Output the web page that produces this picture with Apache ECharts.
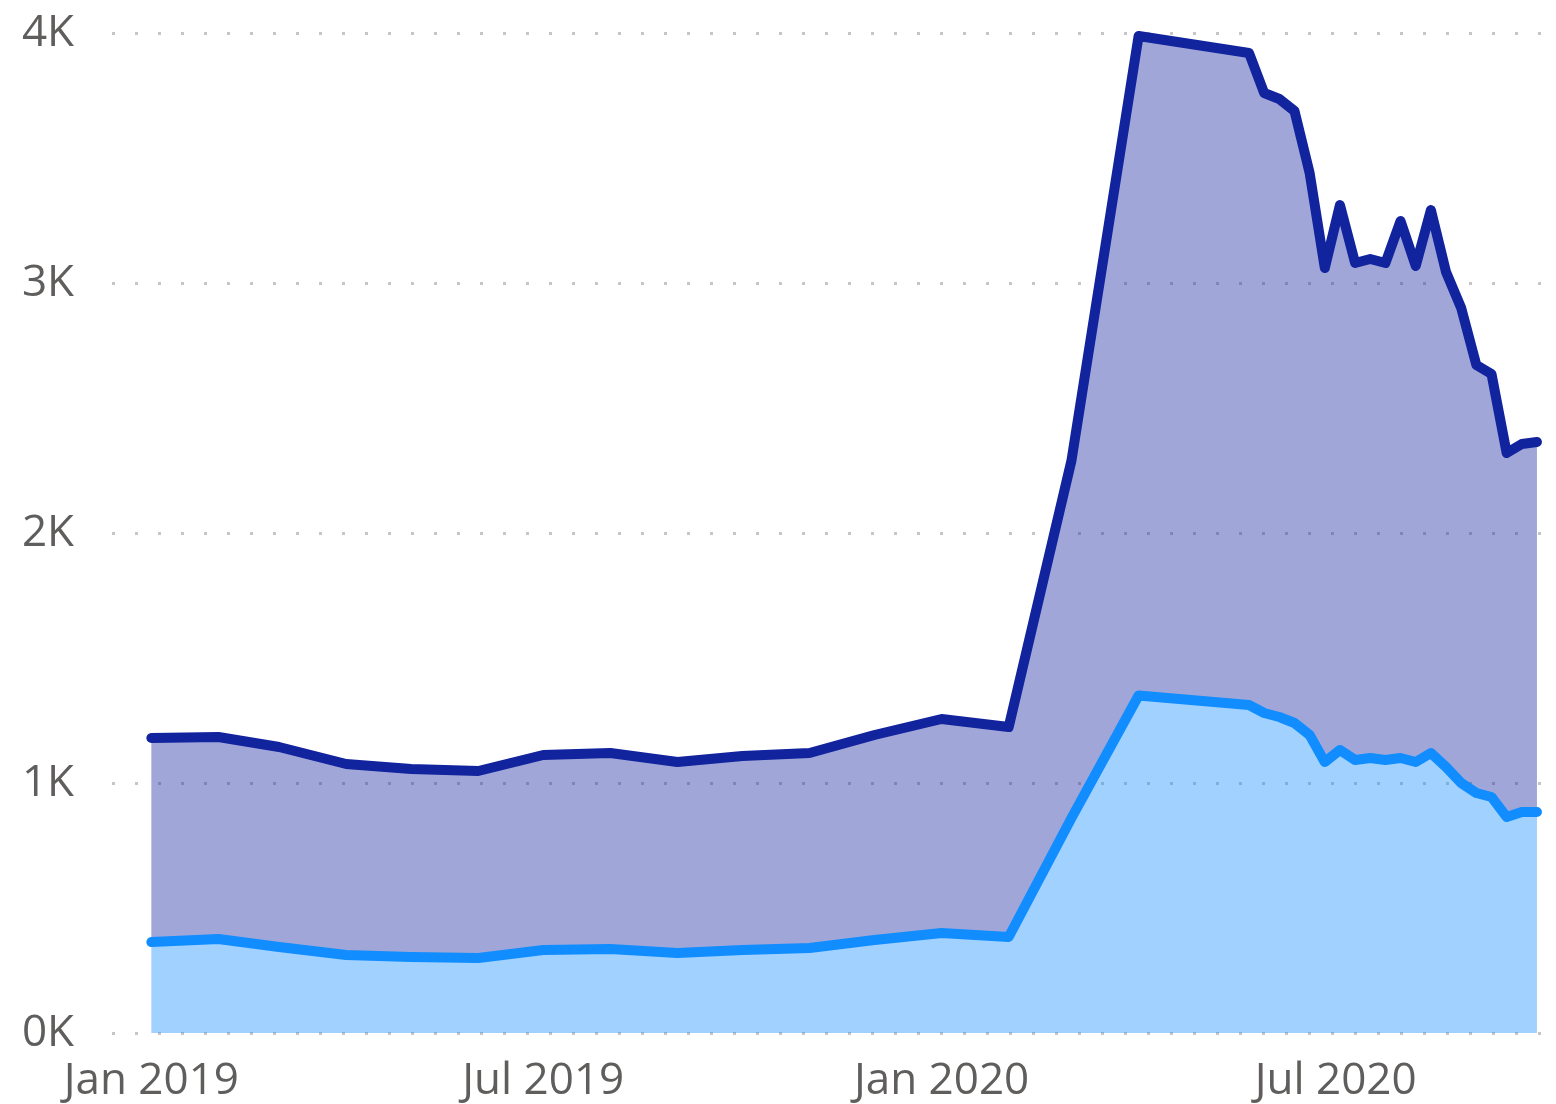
<!DOCTYPE html>
<html lang="en">
<head>
    <meta charset="UTF-8">
    <title>Area chart</title>
    <style>
        body {
            padding: 0;
            margin: 0;
            background-color: #FFFFFF;
            overflow: hidden;
        }
        #main_chart {
            width: 1556px;
            height: 1104px;
        }
    </style>
</head>
<body>
<div id="main_chart"></div>
<script type="text/javascript" src="https://cdn.jsdelivr.net/npm/echarts@6/dist/echarts.min.js"></script>
<script type="text/javascript">
// monthly points up to Apr 2020, weekly after
var dates = [
    '2019-01-01', '2019-02-01', '2019-03-01', '2019-04-01', '2019-05-01', '2019-06-01',
    '2019-07-01', '2019-08-01', '2019-09-01', '2019-10-01', '2019-11-01', '2019-12-01',
    '2020-01-01', '2020-02-01', '2020-03-01', '2020-04-01',
    '2020-05-22', '2020-05-29', '2020-06-05', '2020-06-12', '2020-06-19', '2020-06-26',
    '2020-07-03', '2020-07-10', '2020-07-17', '2020-07-24', '2020-07-31', '2020-08-07',
    '2020-08-14', '2020-08-21', '2020-08-28', '2020-09-04', '2020-09-11', '2020-09-18',
    '2020-09-25', '2020-10-02'
];

// top line (total)
var totals = [
    1180, 1184, 1144, 1076, 1056, 1048, 1112, 1120, 1084, 1108, 1120, 1192,
    1256, 1224, 2290, 3988,
    3920, 3760, 3736, 3688, 3440, 3060, 3312, 3080, 3096, 3080, 3248, 3068,
    3292, 3044, 2900, 2672, 2636, 2320, 2356, 2364
];

// lower line
var lower = [
    364, 376, 344, 312, 304, 300, 332, 336, 320, 332, 340, 372,
    400, 384, 860, 1350,
    1312, 1280, 1264, 1240, 1192, 1084, 1132, 1092, 1100, 1092, 1100, 1084,
    1120, 1064, 1000, 960, 944, 864, 884, 884
];

var yTicks = ['0K', '1K', '2K', '3K', '4K'];

var lowerData = dates.map(function (d, i) { return [d, lower[i]]; });
var upperData = dates.map(function (d, i) { return [d, totals[i] - lower[i]]; });

var months = ['Jan', 'Feb', 'Mar', 'Apr', 'May', 'Jun', 'Jul', 'Aug', 'Sep', 'Oct', 'Nov', 'Dec'];
var labelFont = '"Open Sans", "Noto Sans", sans-serif';

var option = {
    animation: false,
    grid: {
        left: 112,
        right: 0,
        top: 33,
        bottom: 71
    },
    xAxis: {
        type: 'time',
        min: new Date(2018, 11, 13, 20).getTime(),
        max: new Date(2020, 9, 10, 19).getTime(),
        splitNumber: 4,
        axisLine: { show: false },
        axisTick: { show: false },
        splitLine: { show: false },
        axisLabel: {
            color: '#605E5C',
            fontFamily: labelFont,
            fontSize: 44,
            margin: 26,
            showMinLabel: false,
            showMaxLabel: false,
            formatter: function (val) {
                var d = new Date(val);
                if (d.getDate() !== 1 || d.getHours() !== 0) return '';
                if (d.getMonth() !== 0 && d.getMonth() !== 6) return '';
                return months[d.getMonth()] + ' ' + d.getFullYear();
            }
        }
    },
    yAxis: {
        type: 'value',
        min: 0,
        max: 4000,
        interval: 1000,
        axisLine: { show: false },
        axisTick: { show: false },
        axisLabel: {
            color: '#605E5C',
            fontFamily: labelFont,
            fontSize: 44,
            margin: 38,
            formatter: function (v) { return yTicks[v / 1000]; }
        },
        splitLine: {
            lineStyle: {
                color: '#C8C6C4',
                width: 3,
                type: [3, 20]
            }
        }
    },
    series: [
        {
            name: 'Lower',
            type: 'line',
            stack: 'total',
            data: lowerData,
            showSymbol: false,
            z: 3,
            lineStyle: { color: '#118DFF', width: 10, cap: 'round', join: 'round' },
            itemStyle: { color: '#118DFF' },
            areaStyle: { color: '#118DFF', opacity: 0.4 }
        },
        {
            name: 'Upper',
            type: 'line',
            stack: 'total',
            data: upperData,
            showSymbol: false,
            z: 2,
            lineStyle: { color: '#12239E', width: 10, cap: 'round', join: 'round' },
            itemStyle: { color: '#12239E' },
            areaStyle: { color: '#12239E', opacity: 0.4 }
        }
    ]
};

var chart = echarts.init(document.getElementById('main_chart'));
chart.setOption(option);
</script>
</body>
</html>
